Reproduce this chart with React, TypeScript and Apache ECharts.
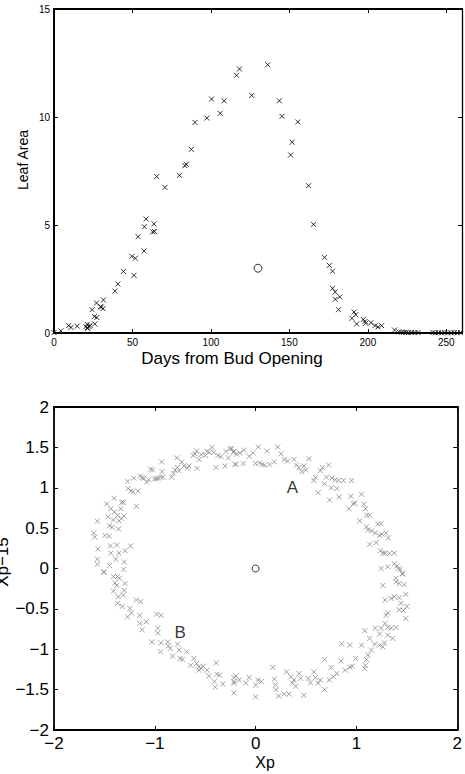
import React, { useEffect, useRef } from "react";
import * as echarts from "echarts";

// Leaf area observations: [day from bud opening, leaf area]
const leafObs: [number, number][] = [
  [0, 0.02], [4.4, 0.1], [9.3, 0.34], [10.8, 0.26], [14.8, 0.32], [20.3, 0.29],
  [21.2, 0.4], [22.4, 0.29], [21.5, 0.22], [23, 0.35], [21.2, 0.24], [24.3, 1.08],
  [26, 0.42], [25.8, 0.76], [27.3, 0.72], [27.1, 1.39], [29.6, 1.22], [30.2, 1.2],
  [31.3, 1.13], [31.5, 1.53], [38.8, 1.94], [40.7, 2.27], [44.3, 2.85], [49.6, 3.55],
  [51, 2.67], [51.9, 3.46], [53.6, 4.46], [57.4, 3.8], [57.6, 4.92], [58.7, 5.28],
  [62.9, 4.68], [64, 4.7], [63.7, 5.05], [65.4, 7.24], [70.7, 6.74], [80, 7.3],
  [83.4, 7.75], [84.3, 7.81], [87.5, 8.5], [89.8, 9.75], [97.4, 9.95], [100.4, 10.83],
  [105.9, 10.17], [108.4, 10.75], [116.3, 11.93], [118.2, 12.22], [126, 11.0],
  [136.2, 12.42], [143.6, 10.75], [145.3, 10.03], [155.4, 9.77], [151.8, 8.83],
  [150.8, 8.24], [162.2, 6.82], [165.4, 5.03], [172.4, 3.5], [175.5, 3.13],
  [177.5, 2.86], [177.5, 2.07], [179.2, 1.9], [182.1, 1.67], [179.2, 1.56],
  [181.3, 1.08], [191.2, 0.97], [192.3, 0.85], [189.8, 0.68], [192.9, 0.42],
  [197.1, 0.63], [198.2, 0.54], [198.6, 0.45], [202, 0.48], [204.6, 0.34],
  [206.5, 0.28], [208.8, 0.34], [217, 0.14], [219.8, 0.05], [221.5, 0.04],
  [223, 0.03], [224.5, 0.03], [226, 0.02], [228, 0.03], [230, 0.02], [232, 0.02],
  [241.5, 0.02], [243, 0.01], [245, 0.02], [247, 0.01], [249, 0.02], [251, 0.01],
  [253, 0.01], [255, 0.02], [257, 0.01], [259, 0.02],
];

// Single open-circle point on the leaf area plot
const leafMarker: [number, number][] = [[130, 3]];

// Phase portrait: [Xp, Xp−15]
const phasePoints: [number, number][] = [
  [-1.606, 0.44], [-1.596, 0.39], [-1.57, 0.585], [-1.564, 0.24], [-1.57, 0.115],
  [-1.57, 0.053], [-1.505, -0.05], [-1.495, 0.41], [-1.478, 0.8], [-1.466, 0.64],
  [-1.45, 0.53], [-1.453, 0.4], [-1.437, 0.74], [-1.424, 0.51], [-1.41, 0.6],
  [-1.404, 0.87], [-1.4, 0.7], [-1.388, 0.115], [-1.44, 0.28], [-1.437, 0.19],
  [-1.45, 0.037], [-1.378, 0.29], [-1.36, 0.49], [-1.37, 0.655], [-1.355, 0.19],
  [-1.353, 0.59], [-1.339, 0.74], [-1.33, 0.62], [-1.33, 0.82], [-1.313, 0.82],
  [-1.306, 0.65], [-1.296, 0.22], [-1.303, 0.08], [-1.31, -0.01], [-1.241, 0.28],
  [-1.27, 1.08], [-1.264, 0.99], [-1.238, 0.96], [-1.208, 1.12], [-1.215, 0.95],
  [-1.183, 0.77], [-1.166, 0.96], [-1.144, 1.146], [-1.127, 1.126], [-1.11, 1.117],
  [-1.081, 1.07], [-1.062, 1.1], [-1.042, 1.23], [-1.023, 1.22], [-1.003, 1.11],
  [-0.983, 1.11], [-0.97, 1.12], [-0.944, 1.13], [-0.932, 1.32], [-0.919, 1.13],
  [-0.929, 1.2], [-0.834, 1.13], [-0.814, 1.18], [-0.801, 1.22], [-0.782, 1.37],
  [-0.775, 1.25], [-0.759, 1.21], [-0.733, 1.32], [-0.71, 1.27], [-0.677, 1.245],
  [-0.661, 1.27], [-0.619, 1.4], [-0.602, 1.42], [-0.586, 1.455], [-0.58, 1.24],
  [-0.56, 1.35], [-0.54, 1.41], [-0.498, 1.4], [-0.482, 1.45], [-0.459, 1.44],
  [-0.433, 1.5], [-0.416, 1.44], [-0.394, 1.25], [-0.374, 1.4], [-0.345, 1.385],
  [-0.303, 1.27], [-0.293, 1.45], [-0.27, 1.37], [-0.254, 1.485], [-0.221, 1.44],
  [-0.205, 1.29], [-0.238, 1.485], [-0.215, 1.45], [-0.189, 1.415], [-0.196, 1.29],
  [-0.156, 1.43], [-0.117, 1.465], [-0.123, 1.3], [-0.065, 1.39], [-0.025, 1.43],
  [0, 1.3], [0.026, 1.505], [0.039, 1.307], [0.065, 1.29], [0.088, 1.28],
  [0.111, 1.455], [0.137, 1.29], [0.186, 1.32], [0.219, 1.505], [0.251, 1.42],
  [0.283, 1.35], [0.317, 1.33], [0.381, 1.35], [0.405, 1.28], [0.43, 1.25],
  [0.457, 1.2], [0.479, 1.27], [0.496, 1.22], [0.528, 1.36], [0.577, 1.09],
  [0.593, 1.13], [0.62, 0.94], [0.642, 1.21], [0.665, 1.25], [0.684, 1.05],
  [0.701, 1.13], [0.723, 1.28], [0.733, 0.85], [0.75, 1.0], [0.757, 1.12],
  [0.789, 1.1], [0.805, 0.99], [0.821, 1.09], [0.828, 0.886], [0.87, 1.09],
  [0.952, 1.09], [0.945, 0.895], [0.926, 0.74], [0.968, 0.8], [0.984, 0.81],
  [1.05, 0.92], [1.075, 0.795], [1.089, 0.74], [1.102, 0.66], [1.131, 0.66],
  [1.033, 0.59], [1.099, 0.515], [1.114, 0.48], [1.148, 0.465], [1.187, 0.44],
  [1.212, 0.55], [1.229, 0.41], [1.245, 0.555], [1.131, 0.3], [1.196, 0.32],
  [1.251, 0.425], [1.294, 0.44], [1.317, 0.38], [1.239, 0.22], [1.261, 0.19],
  [1.284, 0.19], [1.327, 0.185], [1.375, 0.19], [1.245, 0.0], [1.31, 0.02],
  [1.375, 0.06], [1.402, 0.03], [1.414, 0.0], [1.434, -0.012], [1.457, -0.06],
  [1.392, -0.12], [1.457, -0.07], [1.261, -0.21], [1.392, -0.165], [1.424, -0.185],
  [1.473, -0.2], [1.49, -0.32], [1.284, -0.39], [1.343, -0.37], [1.375, -0.35],
  [1.424, -0.36], [1.441, -0.43], [1.5, -0.47], [1.424, -0.51], [1.466, -0.52],
  [1.31, -0.55], [1.294, -0.58], [1.49, -0.62], [1.284, -0.68], [1.31, -0.73],
  [1.343, -0.74], [1.392, -0.73], [1.245, -0.74], [1.187, -0.74], [1.082, -0.77],
  [1.229, -0.81], [1.31, -0.825], [1.359, -0.866], [1.131, -0.866], [1.18, -0.937],
  [1.229, -0.95], [1.261, -0.97], [1.278, -0.92], [1.05, -0.95], [0.854, -0.93],
  [0.935, -0.95], [1.148, -1.01], [1.114, -1.07], [1.099, -1.126], [0.991, -1.114],
  [0.958, -1.21], [0.935, -1.22], [0.848, -1.144], [0.887, -1.26], [0.684, -1.126],
  [0.75, -1.225], [0.805, -1.3], [0.772, -1.34], [0.73, -1.38], [0.684, -1.5],
  [1.082, -1.24], [1.089, -1.2], [0.577, -1.28], [0.593, -1.35], [0.642, -1.38],
  [0.62, -1.42], [0.522, -1.36], [0.544, -1.415], [0.43, -1.3], [0.447, -1.36],
  [0.381, -1.38], [0.398, -1.46], [0.307, -1.28], [0.349, -1.34], [0.365, -1.42],
  [0.479, -1.57], [0.332, -1.555], [0.283, -1.555], [0.228, -1.58], [0.17, -1.225],
  [0.186, -1.37], [0.196, -1.44], [0.202, -1.5], [0.023, -1.38], [0.0, -1.445],
  [0.056, -1.4], [0.0, -1.59], [-0.065, -1.35], [-0.098, -1.415], [-0.196, -1.33],
  [-0.215, -1.4], [-0.215, -1.54], [-0.162, -1.38], [-1.505, -0.04], [-1.41, -0.1],
  [-1.371, -0.1], [-1.352, -0.12], [-1.394, -0.18], [-1.378, -0.21], [-1.296, -0.185],
  [-1.41, -0.28], [-1.303, -0.27], [-1.313, -0.33], [-1.362, -0.35], [-1.368, -0.43],
  [-1.323, -0.47], [-1.247, -0.495], [-1.271, -0.6], [-1.232, -0.55], [-1.183, -0.39],
  [-1.14, -0.41], [-1.15, -0.58], [-1.15, -0.68], [-1.127, -0.76], [-1.085, -0.66],
  [-1.029, -0.91], [-0.983, -0.566], [-0.938, -0.58], [-0.97, -0.74], [-0.97, -0.8],
  [-0.944, -1.03], [-0.938, -0.92], [-0.873, -0.91], [-0.866, -0.96], [-0.847, -0.99],
  [-0.824, -1.085], [-0.775, -0.937], [-0.759, -1.01], [-0.749, -1.114], [-0.726, -1.126],
  [-0.684, -1.03], [-0.645, -1.2], [-0.612, -1.114], [-0.586, -1.176], [-0.563, -1.218],
  [-0.541, -1.238], [-0.521, -1.21], [-0.563, -1.26], [-0.482, -1.26], [-0.465, -1.33],
  [-0.41, -1.4], [-0.4, -1.47], [-0.391, -1.17], [-0.384, -1.31], [-0.358, -1.32],
  [-0.326, -1.43], [-0.215, -1.35], [-0.215, -1.42],
];

const phaseOrigin: [number, number][] = [[0, 0]];

// Annotations placed in data space
const phaseLabels: [number, number, string][] = [
  [0.365, 1.0, "A"],
  [-0.749, -0.797, "B"],
];

const FONT = "Liberation Sans, Arial, Helvetica, sans-serif";
const CROSS = "path://M0,0L10,10M10,0L0,10";

const minusFmt = (v: number) => (v < 0 ? "\u2212" + Math.abs(v) : String(v));

export default function App() {
  const ref = useRef<HTMLDivElement>(null);

  useEffect(() => {
    if (!ref.current) return;
    const chart = echarts.init(ref.current, undefined, { renderer: "svg" });

    const frameAxis = (
      gridIndex: number,
      position: string,
      min: number,
      max: number,
      interval: number,
      showLabel: boolean,
      fontSize: number,
      margin: number,
      lineWidth: number,
      fmt: (v: number) => string
    ) => ({
      type: "value",
      gridIndex,
      position,
      min,
      max,
      interval,
      axisLine: { show: true, onZero: false, lineStyle: { color: "#000", width: lineWidth } },
      axisTick: { show: true, inside: true, length: 4, lineStyle: { color: "#000", width: 1 } },
      axisLabel: {
        show: showLabel,
        color: "#000",
        fontSize,
        fontFamily: FONT,
        margin,
        formatter: fmt,
      },
      splitLine: { show: false },
    });

    const topFmt = (step: number) => (v: number) =>
      Math.abs(v / step - Math.round(v / step)) < 1e-9 ? String(v) : "";

    chart.setOption({
      animation: false,
      backgroundColor: "#fff",
      grid: [
        { left: 54, top: 9, width: 409, height: 324 },
        { left: 54, top: 407, width: 409, height: 323 },
      ],
      xAxis: [
        frameAxis(0, "bottom", 0, 260, 50, true, 10, 4, 2, topFmt(50)),
        frameAxis(0, "top", 0, 260, 50, false, 10, 4, 2, topFmt(50)),
        frameAxis(1, "bottom", -2, 2, 1, true, 17, 5, 1.8, minusFmt),
        frameAxis(1, "top", -2, 2, 1, false, 17, 5, 1.8, minusFmt),
      ],
      yAxis: [
        frameAxis(0, "left", 0, 15, 5, true, 10, 4, 2, topFmt(5)),
        frameAxis(0, "right", 0, 15, 5, false, 10, 4, 1.3, topFmt(5)),
        frameAxis(1, "left", -2, 2, 0.5, true, 17, 5, 1.8, minusFmt),
        frameAxis(1, "right", -2, 2, 0.5, false, 17, 5, 1.8, minusFmt),
      ],
      series: [
        {
          type: "scatter",
          xAxisIndex: 0,
          yAxisIndex: 0,
          data: leafObs,
          symbol: CROSS,
          symbolSize: 5,
          itemStyle: { color: "transparent", borderColor: "#000", borderWidth: 1 },
        },
        {
          type: "scatter",
          xAxisIndex: 0,
          yAxisIndex: 0,
          data: leafMarker,
          symbol: "circle",
          symbolSize: 8,
          itemStyle: { color: "#fff", borderColor: "#000", borderWidth: 1 },
        },
        {
          type: "scatter",
          xAxisIndex: 2,
          yAxisIndex: 2,
          data: phasePoints,
          symbol: CROSS,
          symbolSize: 5,
          itemStyle: { color: "transparent", borderColor: "#888", borderWidth: 1 },
        },
        {
          type: "scatter",
          xAxisIndex: 2,
          yAxisIndex: 2,
          data: phaseOrigin,
          symbol: "circle",
          symbolSize: 7,
          itemStyle: { color: "#fff", borderColor: "#000", borderWidth: 1 },
        },
        {
          type: "scatter",
          xAxisIndex: 2,
          yAxisIndex: 2,
          data: phaseLabels,
          symbolSize: 0,
          label: {
            show: true,
            position: "inside",
            formatter: (p: any) => p.value[2],
            color: "#000",
            fontSize: 17,
            fontFamily: FONT,
          },
        },
      ],
      graphic: [
        {
          type: "text",
          x: 232,
          y: 358,
          style: {
            text: "Days from Bud Opening",
            font: `17px ${FONT}`,
            fill: "#000",
            align: "center",
            verticalAlign: "middle",
          },
        },
        {
          type: "text",
          x: 23,
          y: 160,
          rotation: Math.PI / 2,
          style: {
            text: "Leaf Area",
            font: `14px ${FONT}`,
            fill: "#000",
            align: "center",
            verticalAlign: "middle",
          },
        },
        {
          type: "text",
          x: 265,
          y: 762,
          style: {
            text: "Xp",
            font: `16px ${FONT}`,
            fill: "#000",
            align: "center",
            verticalAlign: "middle",
          },
        },
        {
          type: "text",
          x: 2,
          y: 562,
          rotation: Math.PI / 2,
          style: {
            text: "Xp\u221215",
            font: `17px ${FONT}`,
            fill: "#000",
            align: "center",
            verticalAlign: "middle",
          },
        },
      ],
    });

    return () => chart.dispose();
  }, []);

  return (
    <div
      ref={ref}
      style={{ position: "fixed", left: 0, top: 0, width: 465, height: 774, background: "#fff" }}
    />
  );
}
